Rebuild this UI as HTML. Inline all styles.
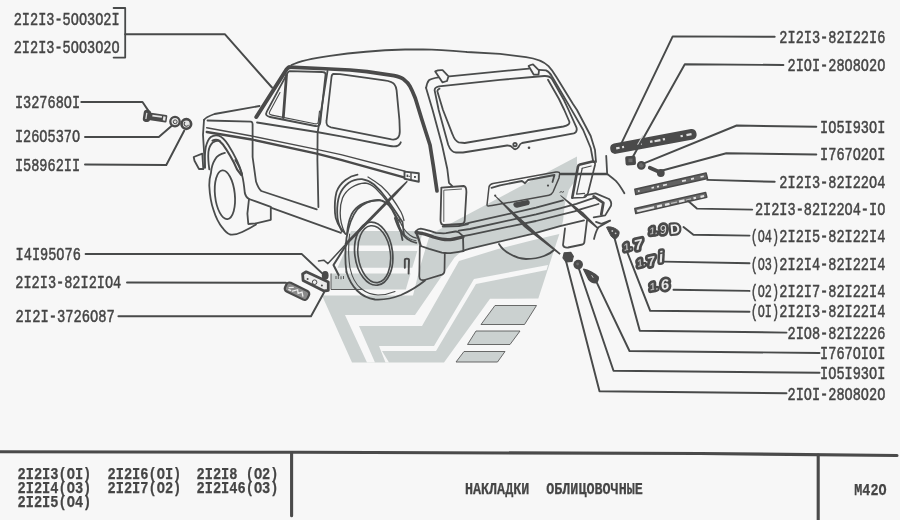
<!DOCTYPE html>
<html><head><meta charset="utf-8">
<style>
html,body{margin:0;padding:0;background:#f7f7f7;}
body{width:900px;height:520px;overflow:hidden;font-family:"Liberation Mono",monospace;}
svg{display:block}
.t{font-family:"Liberation Mono",monospace;font-size:17.6px;fill:#454545;stroke:#454545;stroke-width:0.5px;}
.tb{font-family:"Liberation Mono",monospace;font-size:16px;font-weight:bold;fill:#454545;stroke:#454545;stroke-width:0.25px;}
.ln{fill:none;stroke:#4a4c4c;stroke-width:1.8;stroke-linecap:round;stroke-linejoin:round}
.ld{fill:none;stroke:#484a4a;stroke-width:1.95;stroke-linecap:round;stroke-linejoin:round}
.tk{fill:none;stroke:#4a4a4a;stroke-linecap:round;stroke-linejoin:round}
.wm{fill:#cbd1d0;stroke:none}
.bg{fill:#f7f7f7;stroke:none}
.dk{fill:#4a4a4a;stroke:none}
</style></head>
<body>
<svg width="900" height="520" viewBox="0 0 900 520">
<defs><filter id="nf" x="0" y="0" width="900" height="520" filterUnits="userSpaceOnUse"><feOffset dx="0" dy="0"/></filter></defs>
<rect width="900" height="520" fill="#f7f7f7"/>
<g id="watermark">
<polygon class="wm"  points="351,231 423,231 419,245.5 345,245.5"/>
<polygon class="wm"  points="345,251 417.3,251 412.3,267.7 337.5,267.7"/>
<polygon class="wm"  points="331,273.5 410.5,273.5 405.8,289.5 331,289.5"/>
<path d="M331,273.5 L331,289.5 L362,289.5" fill="none" stroke="#5a5a5a" stroke-width="1"/>
<polygon class="wm"  points="322,295.4 413,295.4 420,267 426,247 430,234.5 577,156.5 577,178 569,189.5 565,203 564,212 563,221 560,232 538.3,298.6 490,298.8 444,362.5 352,362.5"/>
<polygon class="bg"  points="345,315 415,315 454.5,257.6 463,250 570,224 570,231.5 532.5,240.3 498,249 459,261 422,326 359,326 375,362.6 367,362.6"/>
<polygon class="bg"  points="379,346 434,346 474,279 548,265 546.5,270 476,284 436,351 382,351 389,362.6 385.5,362.6"/>
<polygon class="wm" style="stroke:#5a5a5a;stroke-width:0.9;stroke-linejoin:round" points="495,305.5 536.5,305.5 524.5,324.5 481,324.5"/>
<polygon class="wm" style="stroke:#5a5a5a;stroke-width:0.9;stroke-linejoin:round" points="476,331 520,331 510,344.5 467.5,344.5"/>
<polygon class="wm" style="stroke:#5a5a5a;stroke-width:0.9;stroke-linejoin:round" points="464,351.5 505,351.5 497.5,362 456,362"/>
</g>
<g id="car">
<path class="ln" d="M291.5,65 C300,60.8 315,57.8 330,55.8 C350,52.8 380,50.2 405,49.5 L423,49.4 C440,49.7 455,51 467,52 L500,53.8 L526,57.2 C536,58.6 544,61.8 548.5,66.2 C553,71 555,75 557,78 L573,104 L577,110 L586.5,128 L590.7,136 L595,150 L596,162"/>
<path class="tk" style="stroke-width:4.0" d="M256.3,117 L286.6,69.2 C287.5,67.8 288.5,67.2 290,67.2"/>
<path class="tk" style="stroke-width:3.7" d="M289,67.2 L320,68.5 L350,70 L367,71.6 L394,75.6 C399,76.6 401.5,77.5 403.3,79 C406.5,81.5 408.5,83.5 410,86.4 C412.5,91 414,95 415.4,98.5 L422,120 L425.5,131 L430,145 L433.5,167 L437,191"/>
<path class="ln" d="M289.5,71.2 L322.5,72 C324.8,72 325.7,73 325.5,75 L320.3,122.5 C320,125.5 318.3,126.7 315.3,126 L270,117 C266.3,116.2 265.2,114.6 266.8,111.6 L287.3,73.4 C288.2,71.8 288.7,71.2 289.5,71.2 Z"/>
<path class="ln" style="stroke-width:1.1" d="M319.5,111 L318.3,121.5 C318.1,123.6 317.1,124.2 314.8,123.8 L272,115.1 C269,114.5 268.7,113.5 269.8,111.4 L280,92.5"/>
<path class="tk" style="stroke-width:2.8" d="M286.5,75 L283.3,117.5"/>
<path class="ln" d="M327.5,71 L317.6,133 L317.4,160 L318.4,207"/>
<path class="ln" d="M333.5,74 L340,74.2 L384.4,80.3 C390,81 393,82 394.5,84.5 C396,86.5 396.4,88 396.6,90.4 L399.4,120 L399.8,131 C400,137 397,140.3 391.5,139.4 L331,127.3 C327.5,126.5 326,124.5 326.5,121 L331.5,77 C331.8,75 332.3,74 333.5,74 Z"/>
<path class="ln" d="M204,120 C205,118 209,116 214.5,114 L259.5,106"/>
<path class="ln" d="M204,120 L203,134.7 L205,167.6"/>
<path class="ln" d="M207.5,120.5 L251,121.7 C252.3,122 252.6,123 252.6,124 L252.6,157 L256,181.5 C257.5,186 259,189 261.3,191 L316.7,209.4"/>
<path class="ln" d="M257,122.5 L316.7,132 L341,136.4 L390,146 C396,147.2 399.3,146 400.8,142.3"/>
<path class="tk" style="stroke-width:1.4" d="M206.7,127.7 L251.7,136 L316.7,149.4 L341,154.6 L405,171.2"/>
<path class="tk" style="stroke-width:2.3" d="M206.7,132 L251.7,139.5 L316.7,153.7 L341,159.8 L404,177.3"/>
<path d="M404.5,171.6 L418.8,173.3 L418.8,181.8 L404.5,178.8 Z" fill="#f7f7f7" stroke="#4a4c4c" stroke-width="1.9" stroke-linejoin="round"/>
<path class="tk" style="stroke-width:1.4" d="M411,172.6 L411,180"/>
<rect x="406.6" y="174.6" width="1.6" height="2.4" fill="#4a4c4c"/><rect x="408.6" y="175.8" width="1.2" height="1.2" fill="#4a4c4c"/>
<rect x="414" y="176" width="1.9" height="1.9" fill="#4a4c4c"/>
<path class="ln" d="M193.7,157 L202.3,153.7 L203.3,169 L199,169 L194.5,160.7 Z"/>
<path class="ln" d="M205,167.6 C204.6,158 204.8,152 205.8,147 C207,142 208.6,138.8 210.8,137 C213,135.4 216,135 218.5,135.6 C222.5,136.8 225.5,140.5 228.3,145 C231.5,150 234.5,155.5 237,160.7 C239.5,166 241,170 242.2,174.5"/>
<path class="tk" style="stroke-width:2.1" d="M212.5,140.6 C214.5,139.6 216,139.5 217.7,140 C220,141 221.5,143 223,144.6 C225.5,148 228,152 230,155.5 C233,160.5 235.2,165 237,169.3 L241.3,175.2"/>
<path class="ln" d="M209.3,169.3 C208.3,162 208,157 208.4,152 C209,147.5 210.5,144.5 212.7,142.5 C215,141 217.5,140.5 219.7,140.7"/>
<path class="ln" d="M224.9,152.9 C220,154 217,156 215.3,159 C212.5,163.5 211.3,168 211,172.8 C209.5,178 209.2,182 209.3,186 C209.8,196 211,203 213.6,210.3 C216,218 218.5,223 222.3,227.6 C225,231.5 227,233.5 230,234.5 C234,235.2 238,234 242.2,232 C247,229.8 252,227.2 256,224.5"/>
<ellipse class="ln" cx="224.9" cy="194.7" rx="9.9" ry="24.5" transform="rotate(-6 224.9 194.7)"/>
<path class="ln" d="M235.3,160 C238.5,165 241,170 242.2,175.6 C243.8,182 244.3,188 244.8,193 C245.5,196 247,198 249,199"/>
<path class="ln" d="M249,199 L270.8,206.8 L270.8,219.8 L256,223.3 L248.3,224 L247.4,213.7 Z"/>
<path class="ln" d="M270.8,207.7 L341,232.8"/>
<path class="ln" d="M345.5,234 C338.5,226.5 335.2,220 335,213 C334.5,205 335,198 336.5,192 C338.5,186.5 341.5,183 345.5,180 C349,177.3 353,175.5 357.5,174.7"/>
<path class="ln" d="M342,231.5 C338.5,225 337.2,219 337.2,213 C337,206 337.8,200 339.5,195 C341.5,190 344.5,186 348.5,183 C352.5,180.3 357,179 362,179.2 C366.5,179.8 370.5,181.8 374,184.5 C378.5,188.5 382.5,193 386,198 C390,203.5 393.5,208.5 396.5,213 C399,217 401,220 402.5,222 L404,235"/>
<path class="ln" style="stroke-width:1.3" d="M344.7,232.5 C341.5,226 340.2,219 340.2,213 C340,207.5 340.8,202.5 342.5,198 C344.5,193.5 347.5,190 351.5,187.5 C355.5,185 360,183.2 365,183 C369,183.5 372.5,185.5 375.5,188.2 C380.5,193 385,198.5 389,204 C393,210 396.5,216 399.5,222"/>
<path class="ln" style="stroke-width:1.3" d="M368,177 C373,180 377.5,183 381.5,186.3 C386,190.5 389.5,194.5 392,198 C396,203.5 399,208.5 401,212 C402.5,215 403.5,218 404,220.5"/>
<path class="ln" d="M347,234 C347.6,226 349,220 351.5,214.5 C353.8,210 356.8,206.8 360.5,204.7 C366,201.8 373,200.4 380,200.2"/>
<path class="ln" d="M394.8,218 C396.5,223 398,227 400.2,230.8 C402.5,234.5 404.5,237 407,238.8 C410,241 413,242.3 416.3,242.9"/>
<path class="ln" style="stroke-width:1.2" d="M399,219 C400.5,223 402,226 404,229 C406,231.8 408,233.8 410,235.2 C412,236.6 414,237.6 416.5,238.2"/>
<path class="ln" style="stroke-width:1.1" d="M397,221 C399,226.5 401,230.5 404,234 C407,237.5 411,240 416,240.8"/>
<path class="ln" d="M346.5,272 C345,262 345,250 346.5,238 C348.5,226 352,216 357.5,209 C363,203.5 370,200.5 378,200 C384,200.3 388.5,203.5 392,209.5 C397,218 400.5,229 402.5,240"/>
<path class="ln" d="M346.5,272 C349,280 352.5,286 357,290.5 C362,295.5 368,298.5 375,299.5 C383,300 392,298.5 401,295 C409,291.5 417,287 425,280.5"/>
<path class="ln" style="stroke-width:1.1" d="M349.6,234 C348.3,245 348.4,258 350,268 C352,277 356,284.5 361,288.5 C366,292.5 372,294.8 378,295 C384,295 390,293.6 395,291.5"/>
<ellipse class="ln" style="stroke-width:1.7" cx="373.7" cy="253.7" rx="18.9" ry="31.7" transform="rotate(-7 373.7 253.7)"/>
<ellipse class="ln" style="stroke-width:1.6" cx="374.2" cy="254.2" rx="16.2" ry="28.6" transform="rotate(-7 374.2 254.2)"/>
<path class="ln" d="M426,87.7 L432.6,110 L442,144.7 L447.3,169 L449,182.8 L452.5,186.3"/>
<path class="tk" style="stroke-width:1.8" d="M441.3,187.7 L463.8,186 C465.5,186.3 466.4,188 466.4,192 L464.7,220.5 C464.5,223 463.5,224 461.2,224 L444,225 C441.5,225 440.5,223.5 440.5,219.7 L441.3,190 Z"/>
<path class="ln" style="stroke-width:0.9" d="M443.8,221.5 L443.8,190.2 L461.5,189"/>
<path class="ln" d="M426.2,87.7 C426.8,83.5 427.8,81.5 428.9,80.3 C431,78.5 434,78 438.5,77.3"/>
<path class="ln" d="M449.3,76.4 L529,68.6"/>
<path d="M435.2,71.4 C437,70.5 440,70 442.6,70.2 L448.5,76.3 L447,81 L442.4,82.3 Z" fill="#f7f7f7" stroke="#4a4c4c" stroke-width="1.8" stroke-linejoin="round"/>
<path d="M528.6,66 C530,65 531.5,64.5 533,64.3 L539,70.3 L538.5,74.7 L533.8,74.7 Z" fill="#f7f7f7" stroke="#4a4c4c" stroke-width="1.8" stroke-linejoin="round"/>
<path class="ln" d="M539,69.8 L546,70.3 C549,71.5 550.5,73.5 552,76.4 L569.3,105.9 L583.2,130 L590.7,148 L593.3,162"/>
<path class="ln" d="M439,86.4 C436,87 434.6,88 434.6,90.3 L438.7,110 L448.2,144.7 C450,149.5 452,152.2 456,152.5 L463,152.5 L507,145.5 C510,145.3 512,146.8 513,148 C514.5,149.8 516.5,149.7 518.4,147.3 C519.3,145.5 520,143.5 522,143 L573.8,133.4 C576.5,132.5 577.3,130.5 576.4,127.3 L568.6,110 L564.1,100.3 L552,79 C550.5,76.5 549,75.8 544.2,76 L500,79.9 L439,86.4"/>
<path class="ln" d="M439.5,88.6 C438,89.2 437.2,89.8 437.4,91.5 L443,110 L452.5,134.3 C454,138.5 456,141.5 458.6,142.3 L464.7,143 L563.4,126.5 C568,125.5 570,124 569.3,121.5 L564.3,110 L559,99 L548,79.8"/>
<circle class="ln" cx="515" cy="144.6" r="1.7"/>
<circle class="dk" cx="529" cy="147.8" r="1.3"/>
<path class="tk" style="stroke-width:1.5" d="M487,205 L489,187 C489.5,185 490.5,184.2 493,183.6 L556,172 C559,171.6 560,172.3 559.6,174.5 L559,178 L553,192 C552,194 551,194.8 549,195.2 L492,205.6 C488.5,206.2 487,206.3 487,205 Z"/>
<path class="ln" d="M491.5,187.8 L500,185.3 L522,181 L525,183.2 L528,180 L554.5,175 L552.5,182"/>
<circle class="dk" cx="548" cy="185.6" r="1.1"/>
<circle class="dk" cx="495.2" cy="195.6" r="1.1"/>
<path d="M514.5,203.2 L527.5,200.7 C529.3,200.7 529.6,203.4 528.2,204.4 L517,207 C514.3,207.2 513.3,204.2 514.5,203.2 Z" fill="#4a4a4a" stroke="#4a4a4a" stroke-width="1.4" stroke-linejoin="round"/>
<path class="tk" stroke-opacity="0" style="stroke-width:0.9" d="M518,204.6 L524.5,203.3"/>
<path class="ln" d="M465.5,223.8 L470,222.7 L536,207.7 L563,200.4"/>
<path class="ln" d="M442.7,226.5 L458.8,226 L468,224"/>
<path class="ln" d="M458.8,230.7 L470,229 L536,214.4 L560,208.3 L576.4,203.8 L594,197.8"/>
<path class="ln" d="M463,236.2 L470,234.8 L536,221 L574.5,211.3 L582,208.8 L598.5,204"/>
<path class="ln" d="M463.4,250.6 L470,248.6 L533.4,233.6 L560,226.1 L584,220.4"/>
<path class="ln" d="M416,231 C417.5,229.3 419,228.6 420.7,228.6 C424,229 427,230 429.2,230.7 L436,232.8 C440,233.3 443,233.4 446,233.2 L455.4,231.5 C457,231.4 458,231.7 458.8,232.4 L463,236.2"/>
<path class="tk" style="stroke-width:3.2" d="M416,232.4 C419,233 422,233.4 425,234.1 C428,235 431,236 433.4,237 C436.5,238 439,238.7 441.8,239.2 C445,239.7 448,239.8 450.3,239.6 C453,239.3 456,238.6 458.8,237.9 L463,237"/>
<path class="ln" d="M463,236.6 L463.4,251"/>
<path class="ln" d="M420.7,246 L429.2,248.9 L441.8,252.7 C445,253.2 448,253.3 450.3,253.1 L458.8,251.8 L463.4,251"/>
<path class="tk" style="stroke-width:2.3" d="M416,232 L419,240 L420.7,246"/>
<path class="tk" style="stroke-width:1.7" d="M419.8,246 L419.3,276.5 C419.4,279.5 421,280.6 424.4,280 L442,274.6 C443.8,274 444.4,273 444.5,271 L444.8,253"/>
<path class="ln" d="M585,195.3 L595.6,193.3 L609,199 C611,201 611.6,203.5 611,205.8 L605.2,215.4 L593.7,217.3"/>
<path class="tk" style="stroke-width:2.8" d="M593.7,196.4 L603.3,202.9 L601.3,214.4"/>
<path class="tk" style="stroke-width:2.6" d="M572.3,197.6 L578,166.5 C578.3,165.3 579,164.8 580,164.5 L593.5,161.3"/>
<path class="tk" style="stroke-width:1.7" d="M593.5,161.3 C595,161.6 595.3,163 595,165 L588,193 C587,196 585.5,197.3 583,197.5 L572,198"/>
<path class="ln" style="stroke-width:1.3" d="M582.2,168.3 L576.6,194.2 L584.5,193.3"/>
<path class="ln" style="stroke-width:1.1" d="M582.2,168.3 L591.2,166"/>
<path class="ln" d="M499,244 C502,249 506,252 510,254 C515,257 521,258.8 526,259 C533,259 539,258 544,256 C548,254.5 551.5,252.5 554,250"/>
<path class="ln" d="M565,228.5 L563,245 C563.5,247 565,247.8 568,247.5 L582.5,244.5 C584,244 584.5,243 584.5,241 L587,220.5"/>
<path class="ln" d="M606.2,155.8 L607.1,172.5"/>
<path class="ln" d="M607,174 C610,176 613,178.5 615.8,180.8 C619,184 622,189 624.4,193.3"/>
<path class="ln" d="M596,221.9 L601.4,223.9 L610,220.5"/>
<path class="ln" d="M598,228 C596,231 595,235 594,239"/>
<path class="tk" style="stroke-width:1.9" d="M404.8,267.8 L404.8,260 C404.8,258.2 409,258.2 409,260 L408.6,273.5"/>
</g>
<g id="partsdraw" filter="url(#nf)">
<g transform="rotate(8.5 150 116.5)"><rect x="143.2" y="110.3" width="7.4" height="12.2" rx="3.2" fill="#4a4a4a"/><rect x="149.5" y="112.7" width="17.6" height="7.4" rx="1.2" fill="#4a4a4a"/><path d="M152.2,115.2 L161.8,115.2" stroke="#e2e2e2" stroke-width="1.7" fill="none"/><rect x="163.2" y="114.4" width="2.4" height="4" fill="#e6e6e6"/><path d="M146.3,113.4 L146.3,119.6" stroke="#dcdcdc" stroke-width="1.3" fill="none"/></g>
<circle cx="175" cy="121.6" r="4.7" fill="#e4e4e4" stroke="#4a4a4a" stroke-width="2.3"/>
<circle cx="175.2" cy="121.8" r="1.9" fill="none" stroke="#4a4a4a" stroke-width="1"/>
<circle cx="186.3" cy="124" r="4.8" fill="#e6e6e6" stroke="#4a4a4a" stroke-width="2.7"/>
<path d="M185.2,122 a2.3,2.3 0 1 0 3.3,2.9" stroke="#4a4a4a" stroke-width="1.1" fill="none"/>
<path d="M302.6,274 L306.2,271.8 L328.3,281.9 L328.3,290.3 L324,291 L303.1,280.4 Z" fill="#ececec" stroke="#4a4a4a" stroke-width="2.8" stroke-linejoin="round"/>
<circle cx="307.6" cy="279" r="1" fill="#4a4a4a"/><circle cx="314.6" cy="282.2" r="2.3" fill="none" stroke="#4a4a4a" stroke-width="1"/><circle cx="321.9" cy="285.6" r="1" fill="#4a4a4a"/>
<ellipse cx="325.2" cy="275.4" rx="3.4" ry="4.3" fill="#4a4a4a"/>
<g transform="rotate(26 297 291)"><rect x="284.6" y="286.4" width="25" height="9.6" rx="3.2" fill="#8a8a8a" stroke="#4a4a4a" stroke-width="2.2"/><path d="M288.5,291.4 L292,289.3 M293,293 L297,289.6 L299,292.6 L302,289.8 L304.5,293 M289,293.3 L291,293.3" stroke="#ededed" stroke-width="1.3" fill="none" stroke-linecap="round"/></g>
<path d="M336,276 l0,3 M338.3,276 l0,3 M341,276.3 l0,3 M343.5,276 l0,3" stroke="#4a4a4a" stroke-width="0.9" fill="none"/>
<path d="M559.6,192.4 l1.6,-0.8 l1.2,0.7 l1.6,-0.8" stroke="#4a4a4a" stroke-width="1" fill="none"/>
<g transform="rotate(-10.6 653.5 141.3)"><rect x="609.6" y="136.1" width="87.6" height="10.6" rx="4.6" fill="#4a4a4a"/><path d="M615.5,141.4 l3.5,0 M621.5,141.4 l2,0 M640,141.4 l1.5,0 M650,141.2 l2.5,0 M654.5,141.4 l6,0 M663,141.2 l2.2,0 M681,141.3 l2.3,0 M687,141.3 l5.2,0" stroke="#dedede" stroke-width="2.2" fill="none"/></g>
<path d="M637.6,144.8 L642.9,135.4" stroke="#cfcfcf" stroke-width="1.1" fill="none"/>
<rect x="625.4" y="156" width="10.4" height="9.2" rx="1.8" fill="#4a4a4a" transform="rotate(-4 630.5 160.5)"/>
<rect x="628.5" y="158.6" width="4" height="3.6" fill="#6e6e6e"/>
<circle cx="641.3" cy="165.3" r="3.4" fill="#6a6a6a" stroke="#4a4a4a" stroke-width="2"/>
<path d="M649.8,167.8 L660.5,172.6" stroke="#4a4a4a" stroke-width="3.8" stroke-linecap="round" fill="none"/><circle cx="660.8" cy="173" r="3.9" fill="#4a4a4a"/>
<path d="M634.8,189.2 L706.1,173 L707.5,178.5 L635.8,194.6 Z" fill="#626262" stroke="#4a4a4a" stroke-width="1.5" stroke-linejoin="round"/>
<path d="M638,191.3 l1.6,-0.4 M651.5,188 l2.5,-0.55 M657,186.8 l2,-0.45 M663,185.4 l4,-0.9 M682,181.2 l4,-0.9 M691,179.1 l3,-0.7 M700.5,177 l3.3,-0.75" stroke="#e0e0e0" stroke-width="1.7" fill="none"/>
<path d="M634.8,208.6 L705.6,192.5 L706.8,197.3 L635.8,213.5 Z" fill="#6c6c6c" stroke="#4a4a4a" stroke-width="1.5" stroke-linejoin="round"/>
<path d="M637.2,211.1 l17,-3.85 M657,206.6 l5,-1.15 M665,204.8 l4.5,-1 M679,201.6 l5.5,-1.25 M693.5,198.3 l2.5,-0.55 M700.5,196.8 l3.6,-0.8" stroke="#e4e4e4" stroke-width="2.3" fill="none"/><path d="M671,203.4 l6,-1.35 M686,200 l5,-1.1" stroke="#bdbdbd" stroke-width="1.2" fill="none"/>
<path d="M606.5,227.2 C610,226 616,228 619,231.5 C619.8,234.5 617.5,238 615.4,238.8 C613.5,238.6 612,237.3 611,236 Z" fill="#4a4a4a" stroke="#4a4a4a" stroke-width="1" stroke-linejoin="round"/>
<circle cx="612.3" cy="231" r="0.9" fill="#c8c8c8"/><circle cx="615.6" cy="233.3" r="0.9" fill="#c8c8c8"/>
<path d="M564.2,252.8 L570.8,252.4 L573.3,256.3 L572,261.4 L566,262 L563,257.8 Z" fill="#4a4a4a" stroke="#4a4a4a" stroke-width="1.2" stroke-linejoin="round"/>
<circle cx="578.2" cy="264.6" r="4.8" fill="#4a4a4a"/><circle cx="577.6" cy="264" r="1.4" fill="#6c6c6c"/>
<path d="M583.6,269.3 C588,270 595,273.6 598.2,277 C598.8,279.8 597,282.4 595.4,282.8 C592.6,282.6 590,281 588.6,279.2 Z" fill="#4a4a4a" stroke="#4a4a4a" stroke-width="1.4" stroke-linejoin="round"/>
<path d="M591.6,275.2 l1.6,2.6" stroke="#cfcfcf" stroke-width="0.9" fill="none"/>
<text x="650.0" y="234.6" transform="rotate(-8 650.0 234.6)" font-family="Liberation Sans, sans-serif" font-style="italic" font-weight="bold" font-size="9.5" letter-spacing="0" fill="#b5b5b5" stroke="#4a4a4a" stroke-width="5.6" stroke-linejoin="round" paint-order="stroke">1</text>
<text x="655.3" y="234.2" transform="rotate(-8 655.3 234.2)" font-family="Liberation Sans, sans-serif" font-style="italic" font-weight="bold" font-size="9.5" letter-spacing="0" fill="#b5b5b5" stroke="#4a4a4a" stroke-width="4.4" stroke-linejoin="round" paint-order="stroke">.</text>
<text x="660.2" y="234.2" transform="rotate(-8 660.2 234.2)" font-family="Liberation Sans, sans-serif" font-style="italic" font-weight="normal" font-size="12.5" letter-spacing="0" fill="#d9d9d9" stroke="#4a4a4a" stroke-width="5.6" stroke-linejoin="round" paint-order="stroke">9</text>
<text x="670.6" y="234.0" transform="rotate(-5 670.6 234.0)" font-family="Liberation Sans, sans-serif" font-style="normal" font-weight="bold" font-size="13.5" letter-spacing="0" fill="#f0f0f0" stroke="#4a4a4a" stroke-width="4.4" stroke-linejoin="round" paint-order="stroke">D</text>
<text x="624.6" y="251.0" transform="rotate(-14 624.6 251.0)" font-family="Liberation Sans, sans-serif" font-style="italic" font-weight="bold" font-size="10" letter-spacing="0" fill="#b5b5b5" stroke="#4a4a4a" stroke-width="5.4" stroke-linejoin="round" paint-order="stroke">1</text>
<text x="630.0" y="250.0" transform="rotate(-14 630.0 250.0)" font-family="Liberation Sans, sans-serif" font-style="italic" font-weight="bold" font-size="10" letter-spacing="0" fill="#b5b5b5" stroke="#4a4a4a" stroke-width="4.0" stroke-linejoin="round" paint-order="stroke">.</text>
<text x="635.6" y="250.2" transform="rotate(-12 635.6 250.2)" font-family="Liberation Sans, sans-serif" font-style="italic" font-weight="bold" font-size="14.5" letter-spacing="0" fill="#e6e6e6" stroke="#4a4a4a" stroke-width="5.6" stroke-linejoin="round" paint-order="stroke">7</text>
<text x="638.0" y="267.0" transform="rotate(-14 638.0 267.0)" font-family="Liberation Sans, sans-serif" font-style="italic" font-weight="bold" font-size="10" letter-spacing="0" fill="#b5b5b5" stroke="#4a4a4a" stroke-width="5.4" stroke-linejoin="round" paint-order="stroke">1</text>
<text x="643.6" y="265.8" transform="rotate(-14 643.6 265.8)" font-family="Liberation Sans, sans-serif" font-style="italic" font-weight="bold" font-size="10" letter-spacing="0" fill="#b5b5b5" stroke="#4a4a4a" stroke-width="4.0" stroke-linejoin="round" paint-order="stroke">.</text>
<text x="648.6" y="266.4" transform="rotate(-12 648.6 266.4)" font-family="Liberation Sans, sans-serif" font-style="italic" font-weight="bold" font-size="13.5" letter-spacing="0" fill="#dcdcdc" stroke="#4a4a4a" stroke-width="5.6" stroke-linejoin="round" paint-order="stroke">7</text>
<text x="659.6" y="262.4" transform="rotate(-8 659.6 262.4)" font-family="Liberation Sans, sans-serif" font-style="italic" font-weight="bold" font-size="15.5" letter-spacing="0" fill="#e6e6e6" stroke="#4a4a4a" stroke-width="5.0" stroke-linejoin="round" paint-order="stroke">i</text>
<text x="650.6" y="290.6" transform="rotate(-12 650.6 290.6)" font-family="Liberation Sans, sans-serif" font-style="italic" font-weight="bold" font-size="10" letter-spacing="0" fill="#b5b5b5" stroke="#4a4a4a" stroke-width="5.4" stroke-linejoin="round" paint-order="stroke">1</text>
<text x="656.0" y="289.8" transform="rotate(-12 656.0 289.8)" font-family="Liberation Sans, sans-serif" font-style="italic" font-weight="bold" font-size="10" letter-spacing="0" fill="#b5b5b5" stroke="#4a4a4a" stroke-width="4.0" stroke-linejoin="round" paint-order="stroke">.</text>
<text x="661.6" y="290.0" transform="rotate(-8 661.6 290.0)" font-family="Liberation Sans, sans-serif" font-style="italic" font-weight="bold" font-size="14.5" letter-spacing="0" fill="#e8e8e8" stroke="#4a4a4a" stroke-width="5.6" stroke-linejoin="round" paint-order="stroke">6</text>
</g>
<g id="leaders">
<path class="ld" style="stroke-width:1.8" d="M113.6,8 L125.2,8 L125.2,57.6 L113.6,57.6"/>
<path class="ld" d="M125.2,34.2 L224.8,34.2 L272,87.5"/>
<path class="ld" d="M81.3,102 L142.5,102 L148.3,110.6"/>
<path class="ld" d="M85,137 L158.8,137 L171.5,126"/>
<path class="ld" d="M85,164.5 L166.3,165 L184.3,130.5"/>
<path class="ld" d="M85.6,253.9 L301.6,253.9 L322.5,273.6"/>
<path class="ld" d="M127,282.4 L286,282.8"/>
<path class="ld" d="M118.4,316.2 L311,316.2 L324,292.5"/>
<polygon class="dk" points="407.8,181.8 396.4,194.5 346.5,245.5 344.5,243.5 394.4,192.5 406.8,180.8"/>
<path class="ld" style="stroke-width:1.5" d="M346.5,243.5 L327.9,263.6 L323.8,260.2 L318.5,260.9"/>
<path class="ld" style="stroke-width:2.0" d="M346.5,244.5 L333.5,265 L338.6,275"/>
<path class="ld" d="M774.7,36.8 L672.7,36.4 L620.8,144.6"/>
<path class="ld" d="M783.4,65 L684.8,64.3 L632.9,156.7"/>
<path class="ld" d="M816.3,126.8 L736.7,125.5 L643.3,163.6"/>
<path class="ld" d="M816.3,154.5 L726.3,153.2 L662.3,170.5"/>
<path class="ld" d="M774.7,181.8 L707.3,179.9"/>
<path class="ld" d="M752.2,209.6 L696.9,208.6 L688.2,201"/>
<path class="ld" d="M749.5,235.6 L693.4,234.7 L683.5,227"/>
<path class="ld" d="M749.5,263.2 L664,261.6"/>
<path class="ld" d="M749.5,290.9 L673.5,289.8"/>
<path class="ld" d="M749.5,311.7 L650.2,310.8 L627,251.5"/>
<path class="ld" d="M786.5,332.6 L639.8,330.8 L614.5,238"/>
<path class="ld" d="M819.5,353 L629.5,351 L596.2,281.3"/>
<path class="ld" d="M819.5,372.8 L613.5,370.8 L579,269"/>
<path class="ld" d="M786.5,393.2 L599.5,391.2 L566,261"/>
<polygon class="dk" points="494.9,195.1 526.8,224 536.3,232.8 560.7,253.5 559.6,254.7 534,234.9 524,227 494.6,196.1"/>
<polygon class="dk" points="560.6,194.9 583.4,212.4 598.2,227.4 597.2,228.7 580.6,215.1 560.3,195.8"/>
<path class="ld" style="stroke-width:1.7" d="M597.6,227.8 L610,220.8"/>
<path class="ld" style="stroke-width:2.6" d="M561,174 L607,174"/>
</g>
<g id="text" filter="url(#nf)">
<text class="t" x="13.70" y="25.10" textLength="105.95" lengthAdjust="spacingAndGlyphs">2I2I3-5OO3O2I</text>
<text class="t" x="13.70" y="52.50" textLength="105.95" lengthAdjust="spacingAndGlyphs">2I2I3-5OO3O2O</text>
<text class="t" x="14.90" y="108.40" textLength="65.20" lengthAdjust="spacingAndGlyphs">I32768OI</text>
<text class="t" x="14.90" y="142.20" textLength="65.20" lengthAdjust="spacingAndGlyphs">I26O537O</text>
<text class="t" x="14.90" y="170.90" textLength="65.20" lengthAdjust="spacingAndGlyphs">I58962II</text>
<text class="t" x="15.60" y="259.90" textLength="65.20" lengthAdjust="spacingAndGlyphs">I4I95O76</text>
<text class="t" x="15.30" y="287.70" textLength="105.95" lengthAdjust="spacingAndGlyphs">2I2I3-82I2IO4</text>
<text class="t" x="15.60" y="321.90" textLength="99.24" lengthAdjust="spacingAndGlyphs">2I2I-3726O87</text>
<text class="t" x="779.35" y="43.20" textLength="105.95" lengthAdjust="spacingAndGlyphs">2I2I3-82I22I6</text>
<text class="t" x="787.50" y="70.90" textLength="97.80" lengthAdjust="spacingAndGlyphs">2IOI-28O8O2O</text>
<text class="t" x="820.10" y="133.20" textLength="65.20" lengthAdjust="spacingAndGlyphs">IO5I93OI</text>
<text class="t" x="820.10" y="160.20" textLength="65.20" lengthAdjust="spacingAndGlyphs">I767O2OI</text>
<text class="t" x="779.35" y="187.50" textLength="105.95" lengthAdjust="spacingAndGlyphs">2I2I3-82I22O4</text>
<text class="t" x="754.90" y="215.30" textLength="130.40" lengthAdjust="spacingAndGlyphs">2I2I3-82I22O4-IO</text>
<text class="t" x="779.35" y="241.90" textLength="105.95" lengthAdjust="spacingAndGlyphs">2I2I5-82I22I4</text>
<text class="t" x="750.65" y="241.90" textLength="28.40" lengthAdjust="spacingAndGlyphs">(O4)</text>
<text class="t" x="779.35" y="269.60" textLength="105.95" lengthAdjust="spacingAndGlyphs">2I2I4-82I22I4</text>
<text class="t" x="750.65" y="269.60" textLength="28.40" lengthAdjust="spacingAndGlyphs">(O3)</text>
<text class="t" x="779.35" y="296.90" textLength="105.95" lengthAdjust="spacingAndGlyphs">2I2I7-82I22I4</text>
<text class="t" x="750.65" y="296.90" textLength="28.40" lengthAdjust="spacingAndGlyphs">(O2)</text>
<text class="t" x="779.35" y="317.40" textLength="105.95" lengthAdjust="spacingAndGlyphs">2I2I3-82I22I4</text>
<text class="t" x="750.65" y="317.40" textLength="28.40" lengthAdjust="spacingAndGlyphs">(OI)</text>
<text class="t" x="787.50" y="339.10" textLength="97.80" lengthAdjust="spacingAndGlyphs">2IO8-82I2226</text>
<text class="t" x="820.10" y="359.20" textLength="65.20" lengthAdjust="spacingAndGlyphs">I767OIOI</text>
<text class="t" x="820.10" y="379.40" textLength="65.20" lengthAdjust="spacingAndGlyphs">IO5I93OI</text>
<text class="t" x="787.50" y="399.60" textLength="97.80" lengthAdjust="spacingAndGlyphs">2IOI-28O8O2O</text>
<text class="tb" style="font-size:17px" x="17.50" y="479.20" textLength="73.80" lengthAdjust="spacingAndGlyphs">2I2I3(OI)</text>
<text class="tb" style="font-size:17px" x="107.50" y="479.20" textLength="73.80" lengthAdjust="spacingAndGlyphs">2I2I6(OI)</text>
<text class="tb" style="font-size:17px" x="196.50" y="479.20" textLength="82.00" lengthAdjust="spacingAndGlyphs">2I2I8&#160;(O2)</text>
<text class="tb" style="font-size:17px" x="17.50" y="493.20" textLength="73.80" lengthAdjust="spacingAndGlyphs">2I2I4(O3)</text>
<text class="tb" style="font-size:17px" x="107.50" y="493.20" textLength="73.80" lengthAdjust="spacingAndGlyphs">2I2I7(O2)</text>
<text class="tb" style="font-size:17px" x="196.50" y="493.20" textLength="82.00" lengthAdjust="spacingAndGlyphs">2I2I46(O3)</text>
<text class="tb" style="font-size:17px" x="17.50" y="507.20" textLength="73.80" lengthAdjust="spacingAndGlyphs">2I2I5(O4)</text>
<text class="tb" style="font-size:17px" x="464.9" y="493.8" textLength="64.40" lengthAdjust="spacingAndGlyphs">НАКЛАДКИ</text>
<text class="tb" style="font-size:17px" x="546.2" y="493.8" textLength="96.60" lengthAdjust="spacingAndGlyphs">ОБЛИЦОВОЧНЫЕ</text>
<text class="tb" style="font-size:16.5px" x="854.3" y="495.3" textLength="32.20" lengthAdjust="spacingAndGlyphs">М42O</text>
</g>
<g id="table">
<path class="tk" stroke-width="3.1" d="M0,451.7 L300,452.3 L700,453.5 L897,455.5"/>
<path class="tk" stroke-width="3.1" d="M291.6,452.5 L291.6,515.8"/>
<path class="tk" stroke-width="3.1" d="M818.2,455 L818.2,521"/>
</g>
</svg>
</body></html>
